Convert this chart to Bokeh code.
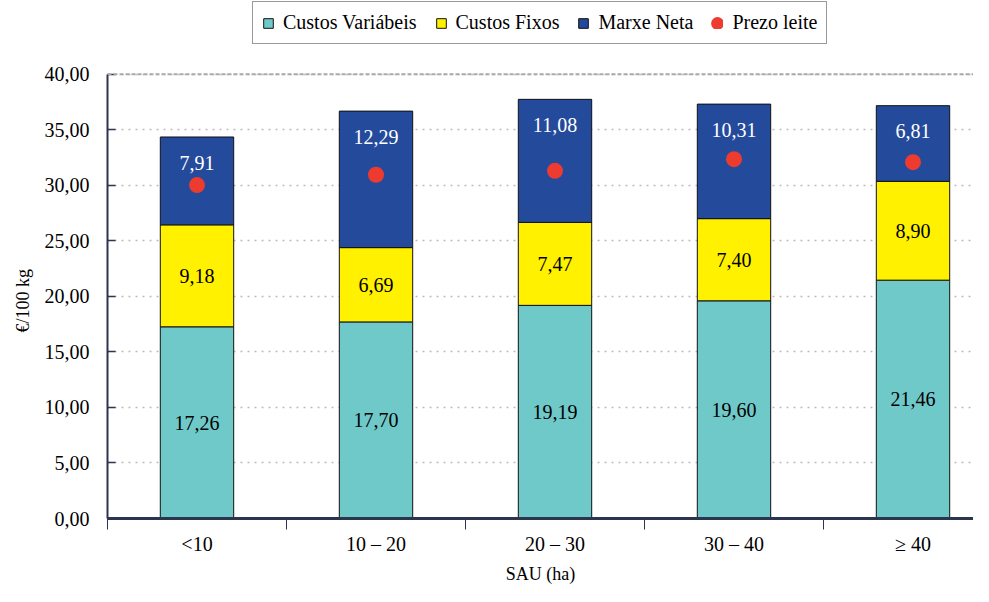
from bokeh.plotting import figure
from bokeh.models import (ColumnDataSource, Range1d, FixedTicker, Legend, LegendItem,
                          Span, Title)
from bokeh.core.properties import value
from bokeh.embed import file_html
from bokeh.resources import INLINE

categories = ["<10", "10 – 20", "20 – 30", "30 – 40", "≥ 40"]
custos_variabeis = [17.26, 17.70, 19.19, 19.60, 21.46]
custos_fixos = [9.18, 6.69, 7.47, 7.40, 8.90]
marxe_neta = [7.91, 12.29, 11.08, 10.31, 6.81]
prezo_leite = [30.02, 30.95, 31.30, 32.35, 32.08]
y_ticks = [0, 5, 10, 15, 20, 25, 30, 35, 40]

FONT = "Liberation Serif"
C_VAR = "#70C9C9"
C_FIX = "#FFF100"
C_MAR = "#244A9C"
C_DOT = "#EE3B30"
C_AXIS = "#2B3550"

def fmt(v):
    return f"{v:.2f}".replace(".", ",")

xs = list(range(len(categories)))
b1 = custos_variabeis
b2 = [a + b for a, b in zip(custos_variabeis, custos_fixos)]
b3 = [a + b for a, b in zip(b2, marxe_neta)]

src = ColumnDataSource(dict(
    x=xs, var=custos_variabeis, fix=custos_fixos, mar=marxe_neta,
    price=prezo_leite,
    y_var=[v / 2 for v in b1],
    y_fix=[(a + b) / 2 for a, b in zip(b1, b2)],
    y_mar=[t - 2.3 for t in b3],
    t_var=[fmt(v) for v in custos_variabeis],
    t_fix=[fmt(v) for v in custos_fixos],
    t_mar=[fmt(v) for v in marxe_neta],
))

# frame spans the full height so the legend can sit inside it, above the 40 line
p = figure(width=973, height=586, output_backend="svg", toolbar_location=None,
           x_range=Range1d(-0.5, 4.338), y_range=Range1d(0, 46.64),
           min_border_left=107, min_border_right=0, min_border_top=0,
           min_border_bottom=66)
p.outline_line_color = None
p.background_fill_color = "white"

# grid
p.xgrid.grid_line_color = None
p.ygrid.ticker = FixedTicker(ticks=y_ticks)
p.ygrid.grid_line_color = "#BBBBBB"
p.ygrid.grid_line_dash = "2 5"
p.ygrid.grid_line_width = 1.5
p.add_layout(Span(location=y_ticks[-1], dimension="width", line_color="#AAAAAA",
                  line_width=2, line_dash="4 2"))

r_stack = p.vbar_stack(["var", "fix", "mar"], x="x", width=0.41, source=src,
                       color=[C_VAR, C_FIX, C_MAR], line_color="#111111",
                       line_width=1)
r_dot = p.scatter("x", "price", source=src, size=16, color=C_DOT, line_color=None)
# hidden twin of the dots, only used to draw a bigger dot in the legend
r_dot_leg = p.scatter("x", "price", source=src, size=4, fill_color=C_DOT,
                      line_color=C_DOT, line_width=8, visible=False)

for col, tcol, color in [("y_var", "t_var", "black"), ("y_fix", "t_fix", "black"),
                         ("y_mar", "t_mar", "white")]:
    p.text("x", col, text=tcol, source=src, text_font=value(FONT),
           text_font_size="20px", text_align="center", text_baseline="middle",
           text_color=color)

# y axis
ya = p.yaxis[0]
ya.ticker = FixedTicker(ticks=y_ticks)
ya.bounds = (y_ticks[0], y_ticks[-1])
ya.major_label_overrides = {t: fmt(t) for t in y_ticks}
ya.major_label_text_font = FONT
ya.major_label_text_font_size = "20px"
ya.major_label_text_color = "black"
ya.major_label_standoff = 18
ya.major_tick_out = 0
ya.major_tick_in = 8
ya.minor_tick_line_color = None
ya.axis_line_color = C_AXIS
ya.axis_line_width = 2
ya.major_tick_line_color = C_AXIS
ya.major_tick_line_width = 1.5

p.add_layout(Title(text="€/100 kg", align="left", offset=186, standoff=18,
                   text_font=FONT, text_font_size="18px",
                   text_font_style="normal", text_color="black"), "left")

# x axis
xa = p.xaxis[0]
xa.ticker = FixedTicker(ticks=xs, minor_ticks=[-0.5, 0.5, 1.5, 2.5, 3.5, 4.5])
xa.major_label_overrides = {i: c for i, c in enumerate(categories)}
xa.major_tick_out = 0
xa.major_tick_in = 0
xa.minor_tick_out = 11
xa.minor_tick_in = 0
xa.minor_tick_line_color = C_AXIS
xa.minor_tick_line_width = 1
xa.major_label_standoff = 3
xa.major_label_text_font = FONT
xa.major_label_text_font_size = "20px"
xa.major_label_text_color = "black"
xa.axis_label = "SAU (ha)"
xa.axis_label_text_font = FONT
xa.axis_label_text_font_style = "normal"
xa.axis_label_text_font_size = "18px"
xa.axis_label_text_color = "black"
xa.axis_label_standoff = 6
xa.axis_line_color = C_AXIS
xa.axis_line_width = 3

items = [
    LegendItem(label="Custos Variábeis", renderers=[r_stack[0]]),
    LegendItem(label="Custos Fixos", renderers=[r_stack[1]]),
    LegendItem(label="Marxe Neta", renderers=[r_stack[2]]),
    LegendItem(label="Prezo leite", renderers=[r_dot_leg]),
]
legend = Legend(items=items, orientation="horizontal", location=(145, 474))
legend.label_text_font = FONT
legend.label_text_font_size = "20px"
legend.label_text_color = "black"
legend.glyph_width = 12
legend.glyph_height = 12
legend.label_standoff = 9
legend.spacing = 18
legend.padding = 9
legend.margin = 0
legend.border_line_color = "#333333"
legend.border_line_width = 1.5
legend.background_fill_alpha = 1
legend.inactive_fill_alpha = 0
p.add_layout(legend)

open("out.html", "w").write(file_html(p, INLINE))
